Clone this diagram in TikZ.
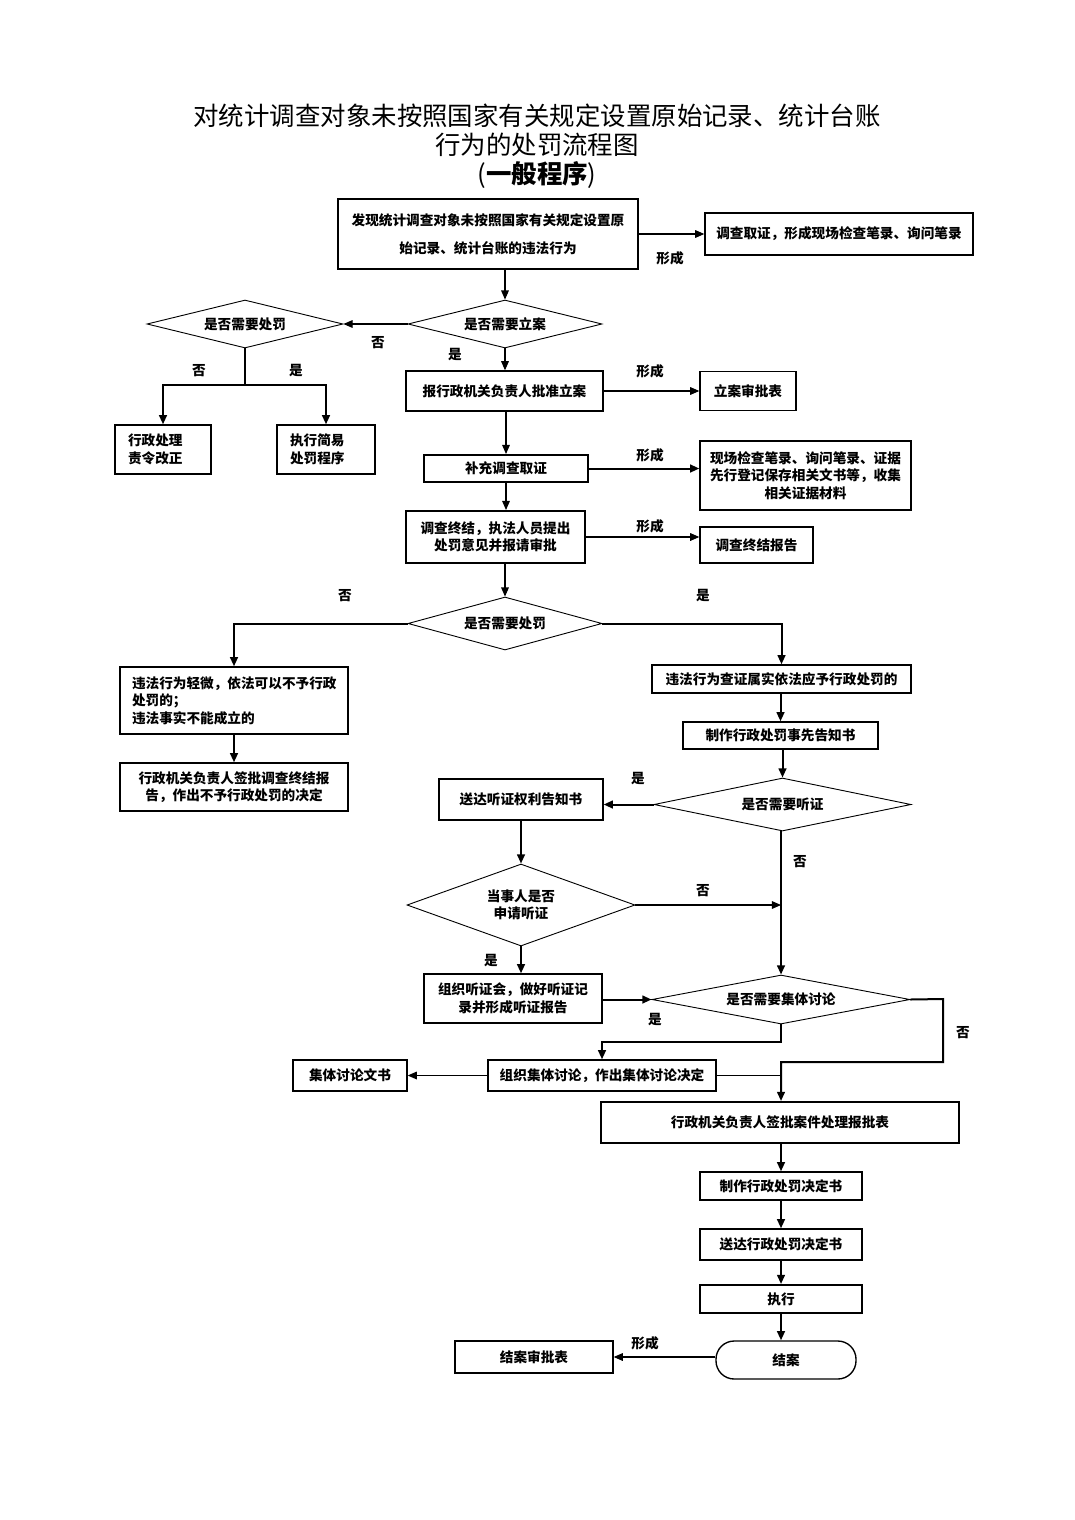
\documentclass[tikz,border=0pt]{standalone}
\usepackage{fontspec}
\setmainfont{Noto Sans CJK SC}
\usetikzlibrary{shapes.geometric,arrows.meta}
\def\PXU{0.55pt}
\tikzset{
 wh/.style 2 args={minimum width=#1*\PXU, minimum height=#2*\PXU},
 box/.style={draw, line width=0.75pt, inner sep=0pt, align=center, font=\bfseries\fontsize{7.5}{9.6}\selectfont},
 dia/.style={draw, diamond, line width=0.5pt, inner sep=0pt, align=center, font=\bfseries\fontsize{7.5}{9.6}\selectfont},
 arr/.style={line width=0.6pt, -{Triangle[length=5pt,width=4.2pt]}},
 ln/.style={line width=0.6pt},
 thk/.style={line width=1.1pt},
 lbl/.style={font=\bfseries\fontsize{7.5}{9}\selectfont, inner sep=0pt},
}
\begin{document}
\begin{tikzpicture}[x=0.55pt,y=-0.55pt]
\useasboundingbox (0,0) rectangle (1075,1520);
% title
\node[font=\fontsize{14}{16}\selectfont, inner sep=0pt] (t1) at (537,116) {对统计调查对象未按照国家有关规定设置原始记录、统计台账};
\node[font=\fontsize{14}{16}\selectfont, inner sep=0pt] (t2) at (537,145) {行为的处罚流程图};
\node[font=\fontsize{14}{16}\selectfont, inner sep=0pt] (t3) at (537,175) {(\textbf{一般程序})};
% nodes
\node[box, wh={300}{70}, font=\bfseries\fontsize{7.5}{15.4}\selectfont] (b1) at (488,234) {发现统计调查对象未按照国家有关规定设置原\\始记录、统计台账的违法行为};
\node[box, wh={268}{42}] (r1) at (839,234) {调查取证，形成现场检查笔录、询问笔录};
\node[dia, wh={194}{48}, shape aspect=4.04] (d1) at (505,324) {是否需要立案};
\node[dia, wh={196}{48}, shape aspect=4.08] (d2) at (245,324) {是否需要处罚};
\node[box, wh={96}{49}, text width=70*\PXU, align=left] (l1) at (163,449.5) {行政处理\\责令改正};
\node[box, wh={98}{49}, text width=72*\PXU, align=left] (l2) at (326,449.5) {执行简易\\处罚程序};
\node[box, wh={197}{40}] (b2) at (504.5,391) {报行政机关负责人批准立案};
\node[box, wh={96}{39}] (s1) at (748,391) {立案审批表};
\node[box, wh={164}{27}, line width=1.1pt] (b3) at (506,468.5) {补充调查取证};
\node[box, wh={211}{69}] (s2) at (805.5,475.5) {现场检查笔录、询问笔录、证据\\先行登记保存相关文书等，收集\\相关证据材料};
\node[box, wh={179}{52}, line width=1.1pt] (b4) at (495.5,537) {调查终结，执法人员提出\\处罚意见并报请审批};
\node[box, wh={113}{36}] (s3) at (756.5,545) {调查终结报告};
\node[dia, wh={194}{53}, shape aspect=3.66] (d3) at (505,623.5) {是否需要处罚};
\node[box, wh={228}{67}, text width=204*\PXU, align=left] (b5) at (234,700.5) {违法行为轻微，依法可以不予行政\\处罚的；\\违法事实不能成立的};
\node[box, wh={228}{48}] (b7) at (234,787) {行政机关负责人签批调查终结报\\告，作出不予行政处罚的决定};
\node[box, wh={259}{28}] (b6) at (781.5,679) {违法行为查证属实依法应予行政处罚的};
\node[box, wh={195}{27}] (b8) at (780.5,735.5) {制作行政处罚事先告知书};
\node[dia, wh={257}{53}, shape aspect=4.85] (d4) at (782.5,804.5) {是否需要听证};
\node[box, wh={164}{41}] (b9) at (521,799.5) {送达听证权利告知书};
\node[dia, wh={228}{82}, shape aspect=2.78] (d5) at (521,905) {当事人是否\\申请听证};
\node[box, wh={178}{49}] (b10) at (513,998.5) {组织听证会，做好听证记\\录并形成听证报告};
\node[dia, wh={258}{49}, shape aspect=5.27] (d6) at (781,999.5) {是否需要集体讨论};
\node[box, wh={228}{31}] (b11) at (602,1075.5) {组织集体讨论，作出集体讨论决定};
\node[box, wh={114}{31}] (b12) at (350,1075.5) {集体讨论文书};
\node[box, wh={358}{41}, line width=1.1pt] (b13) at (780,1122.5) {行政机关负责人签批案件处理报批表};
\node[box, wh={162}{28}] (b14) at (781,1186) {制作行政处罚决定书};
\node[box, wh={162}{31}] (b15) at (781,1244.5) {送达行政处罚决定书};
\node[box, wh={162}{28}, line width=1.1pt] (b16) at (781,1299) {执行};
\node[box, wh={140}{38}, rounded corners=10pt] (tm) at (786,1360) {结案};
\node[box, wh={158}{32}] (b17) at (534,1357) {结案审批表};
% coordinates
\coordinate (j1) at (245,385);
\coordinate (j2) at (781,905);
\coordinate (j3) at (781,1042);
\coordinate (j4) at (943,999);
\coordinate (j5) at (943,1062);
\coordinate (j6) at (781,1062);
% connectors
\draw[arr] (b1.east) -- (r1.west);
\draw[arr] (b1.south -| d1.north) -- (d1.north);
\draw[arr] (d1.west) -- (d2.east);
\draw[ln] (d2.south) -- (j1);
\draw[arr, thk] (j1) -| (l1.north);
\draw[arr, thk] (j1) -| (l2.north);
\draw[arr] (d1.south) -- (d1.south |- b2.north);
\draw[arr] (b2.east) -- (b2.east -| s1.west);
\draw[arr] (b2.south -| b3.north) -- (b3.north);
\draw[arr, thk] (b3.east) -- (b3.east -| s2.west);
\draw[arr] (b3.south) -- (b3.south |- b4.north);
\draw[arr] (b4.east) -- (b4.east -| s3.west);
\draw[arr] (d3.north |- b4.south) -- (d3.north);
\draw[arr, thk] (d3.west) -| (b5.north);
\draw[arr, thk] (d3.east) -| (b6.north);
\draw[arr, thk] (b5.south) -- (b7.north);
\draw[arr, thk] (b6.south -| b8.north) -- (b8.north);
\draw[arr, thk] (b8.south -| d4.north) -- (d4.north);
\draw[arr, thk] (d4.west) -- (d4.west -| b9.east);
\draw[arr, thk] (b9.south) -- (d5.north);
\draw[arr] (d5.east) -- (j2);
\draw[arr, thk] (d4.south -| d6.north) -- (d6.north);
\draw[arr, thk] (d5.south) -- (d5.south |- b10.north);
\draw[arr, thk] (b10.east |- d6.west) -- (d6.west);
\draw[arr, thk] (d6.south) -- (j3) -| (b11.north);
\draw[arr] (b11.west) -- (b12.east);
\draw[ln] (b11.east) -- (b11.east -| j6);
\draw[arr, thk] (d6.east) -- (j4) -- (j5) -- (j6) -- (j6 |- b13.north);
\draw[arr, thk] (b13.south -| b14.north) -- (b14.north);
\draw[arr, thk] (b14.south) -- (b15.north);
\draw[arr, thk] (b15.south) -- (b16.north);
\draw[arr, thk] (b16.south) -- (b16.south |- tm.north);
\draw[arr] (tm.west |- b17.east) -- (b17.east);
% labels
\node[lbl] (f1) at (670,258) {形成};
\node[lbl] (n1) at (378,343) {否};
\node[lbl] (y1) at (455,355) {是};
\node[lbl] (n2) at (199,371) {否};
\node[lbl] (y2) at (296,371) {是};
\node[lbl] (f2) at (650,371) {形成};
\node[lbl] (f3) at (650,455) {形成};
\node[lbl] (f4) at (650,526) {形成};
\node[lbl] (n3) at (345,596) {否};
\node[lbl] (y3) at (703,596) {是};
\node[lbl] (y4) at (638,779) {是};
\node[lbl] (n4) at (800,862) {否};
\node[lbl] (n5) at (703,891) {否};
\node[lbl] (y5) at (491,961) {是};
\node[lbl] (y6) at (655,1020) {是};
\node[lbl] (n6) at (963,1033) {否};
\node[lbl] (f5) at (645,1343) {形成};
\end{tikzpicture}
\end{document}
